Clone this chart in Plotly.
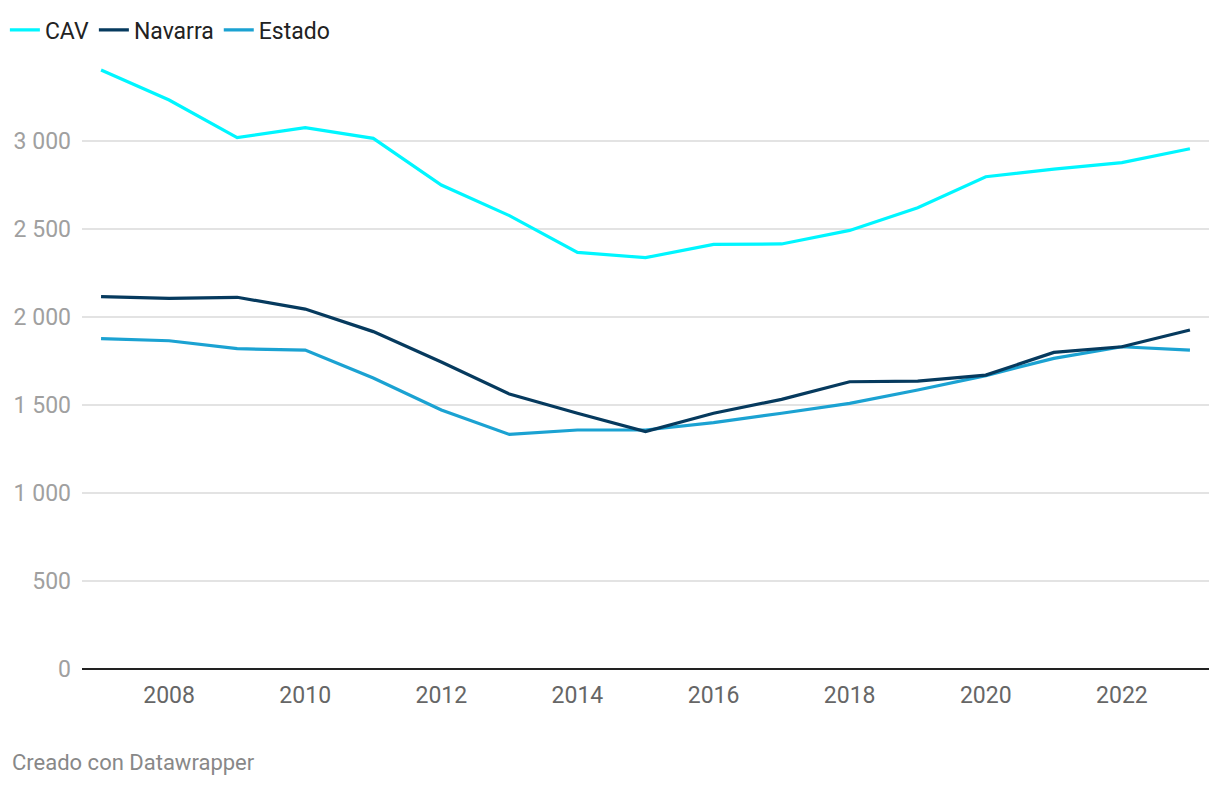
import plotly.graph_objects as go

years = list(range(2007, 2024))
cav = [3403, 3233, 3019, 3076, 3015, 2750, 2576, 2367, 2337, 2413, 2415, 2492, 2621, 2797, 2840, 2877, 2956]
navarra = [2116, 2106, 2112, 2045, 1917, 1744, 1562, 1453, 1349, 1453, 1532, 1632, 1636, 1670, 1799, 1831, 1926]
estado = [1877, 1865, 1820, 1812, 1653, 1472, 1333, 1358, 1358, 1400, 1453, 1509, 1585, 1667, 1765, 1831, 1812]

y_ticks = [0, 500, 1000, 1500, 2000, 2500, 3000]
y_ticktext = ["0", "500", "1 000", "1 500", "2 000", "2 500", "3 000"]
x_ticks = [2008, 2010, 2012, 2014, 2016, 2018, 2020, 2022]

fig = go.Figure()
fig.add_trace(go.Scatter(x=years, y=cav, name="CAV", mode="lines",
                         line=dict(color="#00f6ff", width=3.2), legendrank=1))
fig.add_trace(go.Scatter(x=years, y=estado, name="Estado", mode="lines",
                         line=dict(color="#1ba2d2", width=3.2), legendrank=3))
fig.add_trace(go.Scatter(x=years, y=navarra, name="Navarra", mode="lines",
                         line=dict(color="#063a5e", width=3.2), legendrank=2))

fig.update_layout(
    width=1220, height=786,
    margin=dict(l=82, r=11, t=53, b=117, autoexpand=False),
    plot_bgcolor="white", paper_bgcolor="white",
    font=dict(family="Roboto", size=23, color="#222"),
    showlegend=True,
    legend=dict(orientation="h", xref="container", yref="container",
                x=0.004, y=1 - 30 / 786, xanchor="left", yanchor="middle",
                font=dict(size=23, color="#222"), bgcolor="rgba(0,0,0,0)",
                itemwidth=30, traceorder="normal"),
    xaxis=dict(range=[2006.72, 2023.28], tickvals=x_ticks, showgrid=False,
               zeroline=False, showline=False, ticks="",
               tickfont=dict(size=23, color="#666"), ticklabelstandoff=10),
    yaxis=dict(range=[0, 3500], tickvals=y_ticks, ticktext=y_ticktext,
               showgrid=True, gridcolor="#e3e3e3", gridwidth=1.5,
               zeroline=True, zerolinecolor="#222", zerolinewidth=2,
               showline=False, ticks="", ticklabelstandoff=10,
               tickfont=dict(size=23, color="#a0a0a0")),
    annotations=[dict(text="Creado con Datawrapper", xref="paper", yref="paper",
                      x=-72 / 1127, y=-(762 - 669) / 616, xanchor="left",
                      yanchor="middle", showarrow=False,
                      font=dict(size=22, color="#888"))],
)

fig.write_html("out.html")
